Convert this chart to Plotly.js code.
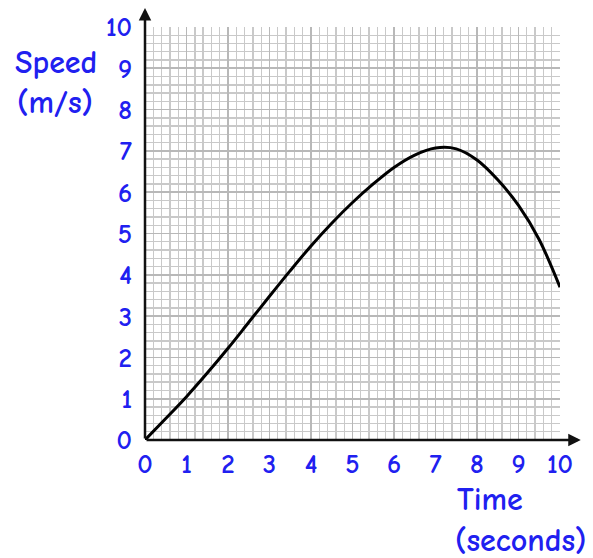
<!DOCTYPE html>
<html>
<head>
<meta charset="utf-8">
<script src="https://cdn.plot.ly/plotly-3.0.1.min.js"></script>
<style>html,body{margin:0;padding:0;background:#fff;}#chart{width:593px;height:558px;}</style>
</head>
<body>
<div id="chart"></div>
<script>
// Data
var timeSeconds = [0, 0.5, 1, 1.5, 2, 2.5, 3, 3.5, 4, 4.5, 5, 5.5, 6, 6.5, 7, 7.5, 8, 8.5, 9, 9.5, 10];
var speedMs     = [0, 0.52, 1.05, 1.62, 2.22, 2.85, 3.48, 4.1, 4.7, 5.25, 5.75, 6.2, 6.6, 6.9, 7.07, 7.05, 6.78, 6.3, 5.68, 4.85, 3.7];
var tickValues  = [0, 1, 2, 3, 4, 5, 6, 7, 8, 9, 10];
var tickLabels  = ["0", "1", "2", "3", "4", "5", "6", "7", "8", "9", "10"];
var yTitleLines = ["Speed", "(m/s)"];
var xTitleLines = ["Time", "(seconds)"];

var FONT = "'Comic Sans MS', 'Comic Neue', 'DejaVu Sans', sans-serif";
var BLUE = "#2020f0";

var trace = {
  x: timeSeconds, y: speedMs, type: "scatter", mode: "lines",
  line: {color: "#000", width: 3, shape: "spline", smoothing: 0.9},
  hoverinfo: "skip", cliponaxis: false
};

var axisCommon = {
  range: [0, 10], tickmode: "array", tickvals: tickValues, ticktext: tickLabels,
  showgrid: true, gridcolor: "#b8b8b8", gridwidth: 1.7,
  minor: {dtick: 0.2, showgrid: true, gridcolor: "#c9c9c9", gridwidth: 1.4},
  zeroline: false, showline: false, ticks: "",
  tickfont: {family: FONT, size: 27, color: BLUE, weight: 700},
  fixedrange: true
};

var xaxis = Object.assign({}, axisCommon, {ticklabelstandoff: 5});
var yaxis = Object.assign({}, axisCommon, {ticklabelstandoff: 12});

function title(text, px, py) {
  return {text: text, xref: "paper", yref: "paper",
    x: (px - 145) / 415, y: (440 - py) / 413, xanchor: "center", yanchor: "middle",
    showarrow: false, font: {family: FONT, size: 32, color: BLUE, weight: 700}};
}

var annotations = [
  // axis arrows
  {x: 0, y: 10.46, ax: 0, ay: 0, xref: "x", yref: "y", axref: "x", ayref: "y",
   showarrow: true, arrowhead: 2, arrowsize: 1, arrowwidth: 2.5, arrowcolor: "#111", text: ""},
  {x: 10.5, y: 0, ax: 0, ay: 0, xref: "x", yref: "y", axref: "x", ayref: "y",
   showarrow: true, arrowhead: 2, arrowsize: 1, arrowwidth: 2.5, arrowcolor: "#111", text: ""},
  // axis titles
  title(yTitleLines[0], 56, 62),
  title(yTitleLines[1], 55, 102),
  title(xTitleLines[0], 490, 499),
  title(xTitleLines[1], 520, 540)
];

var layout = {
  width: 593, height: 558,
  margin: {l: 145, r: 33, t: 27, b: 118, pad: 0},
  paper_bgcolor: "#fff", plot_bgcolor: "#fff",
  showlegend: false,
  xaxis: xaxis, yaxis: yaxis,
  annotations: annotations
};

Plotly.newPlot("chart", [trace], layout, {displayModeBar: false, staticPlot: true});
</script>
</body>
</html>
